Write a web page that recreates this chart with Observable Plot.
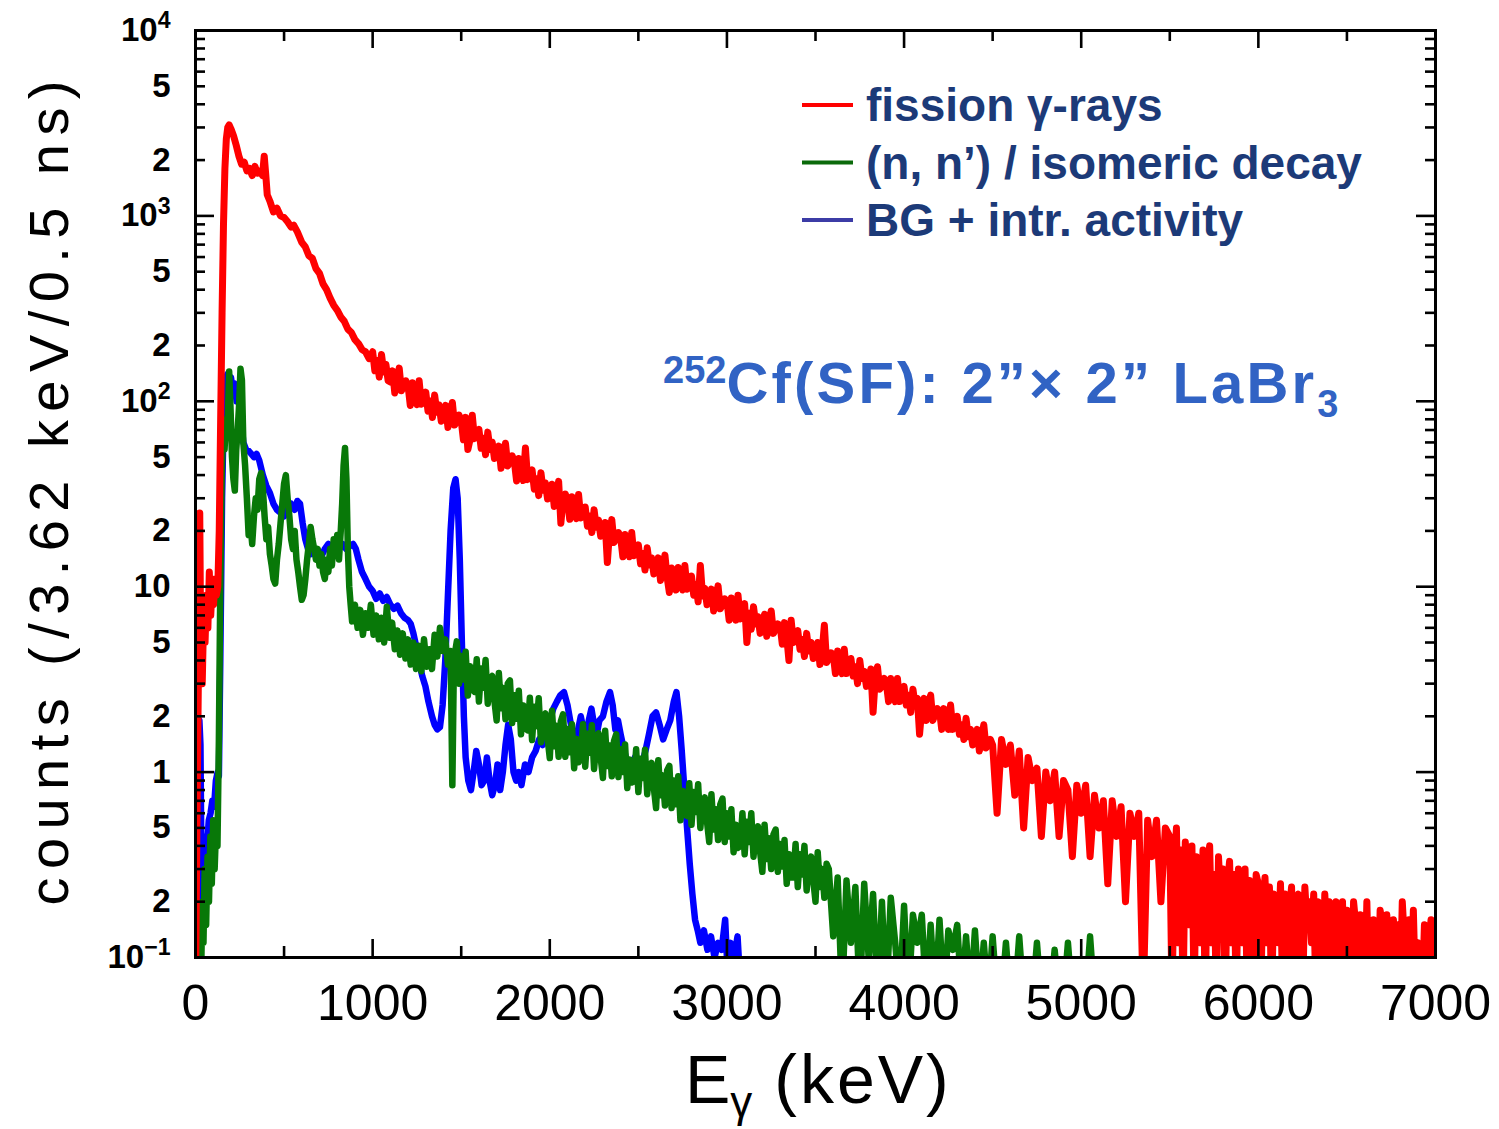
<!DOCTYPE html>
<html>
<head>
<meta charset="utf-8">
<script src="https://cdn.jsdelivr.net/npm/d3@7"></script>
<script src="https://cdn.jsdelivr.net/npm/@observablehq/plot@0.6"></script>
<style>
  html, body { margin: 0; padding: 0; background: #ffffff; }
  #chart { width: 1499px; height: 1129px; }
</style>
</head>
<body>
<div id="chart"></div>
<script>
// ---------------- DATA ----------------
// Energies in keV, counts per (3.62 keV / 0.5 ns). 0 = empty bin.

// fission gamma-rays: irregular low-energy part [E, counts]
const redHead = [[0,0],[8,0.5],[16,3],[24,25],[30,4],[38,3],[46,7],[54,5],[62,9],[70,6],[78,12],[86,7],[94,10],[102,8],[110,11],[118,9],[126,10],[134,20],[142,80],[150,300],[158,900],[166,1800],[174,2600],[182,3000],[190,3100],[200,2950],[215,2700],[230,2400],[245,2100],[260,1900],[275,1950],[290,1750],[305,1800],[320,1650],[335,1850],[350,1700],[365,1750],[378,1650],[388,2100],[396,1700],[405,1300],[420,1200],[440,1050],[460,1100],[480,1000],[500,980],[520,930],[540,870],[555,890],[575,820],[600,720],[620,680],[640,610],[660,590],[680,520],[700,490],[720,430],[740,400],[760,360],[780,330],[800,310],[820,285],[840,270],[860,245],[880,235],[900,215],[920,205],[940,190],[960,185],[980,170]];
// fission gamma-rays: 12.5 keV bins from 1000 to 4500 keV
const redMidStart = 1000, redMidStep = 12.5;
const redMid = [
185,146,166,135,179,144,158,129, 127,146,111,132,151,114,121,129,
121,95,126,106,96,129,96.5,104, 112,88.5,100.5,81.7,108,87.2,95.6,78.1,
82.7,95.1,72.2,86.2,98.6,74.4,78.6,84.3, 78.8,62,81.9,55,62.3,84,62.9,67.9,
70.6,55.8,63.3,51.5,68.2,54.9,60.2,49.2, 49.8,57.3,43.5,51.9,59.4,44.8,47.3,50.8,
47.3,37.2,49.1,41.5,37.4,56,37.8,40.7, 42.6,33.6,38.2,31,41.2,33.1,36.3,29.7,
31,35.7,27.1,32.3,37,22,29.5,31.6, 29.4,23.1,30.6,25.8,23.3,31.4,23.5,25.3,
26.9,21.2,24.1,19.6,26,20.9,22.9,18.7, 19.3,22.2,13.5,20.1,23,17.3,18.3,19.6,
18.4,14.5,19.1,16.1,14.5,19.6,14.7,15.8, 16.8,13.3,15.1,12.3,16.2,13.1,14.3,11.7,
12.4,14.3,10.8,12.9,14.8,11.2,9.3,12.6, 12.2,9.6,12.7,10.7,9.6,13,9.7,10.5,
11.4,9.0,10.3,8.3,13,8.9,9.8,8.0, 8.5,9.7,7.4,8.8,10.1,7.6,8.0,8.6,
8.4,6.6,8.7,7.4,6.6,9.0,6.7,7.2, 8.1,5.0,7.2,5.9,7.8,6.3,6.9,5.6,
6.2,7.1,5.4,6.5,7.4,5.6,5.9,6.3, 6.2,4.9,6.4,5.4,4.0,6.6,5.0,5.3,
5.8,4.6,5.2,4.2,5.6,4.5,5.0,4.1, 4.3,5.0,3.8,4.5,6.2,3.9,4.1,4.4,
4.3,3.4,4.5,3.8,3.4,4.6,3.4,3.7, 4.1,3.3,3.7,3.0,4.0,3.2,3.5,2.9,
3.1,3.6,2.1,3.2,3.7,2.8,2.9,3.2, 3.0,2.4,3.2,2.7,2.4,3.2,2.4,2.6,
2.9,2.3,2.6,2.1,2.8,2.3,2.5,1.6, 2.2,2.5,1.9,2.3,2.6,1.9,2.05,2.2,
2.15,1.7,2.2,1.9,1.7,2.3,1.7,1.85, 2.0,1.6,1.8,1.5,1.95,1.55,1.7,1.4,
1.5,1.7,1.3,1.55,1.8,1.35,1.4,1.5, 1.4];
// fission gamma-rays: 25 keV bins from 4525 to 5475 keV
const redFarStart = 4525, redFarStep = 25;
const redFar = [
0.6,1.5,1.1,1.4, 0.75,1.3,0.5,1.2, 0.9,1.05,0.45,1.0, 0.7,1.0,0.45,0.9, 0.8,0.35,0.85,0.6,
0.85,0.35,0.75,0.5, 0.7,0.25,0.7,0.45, 0.65,0.2,0.6,0.45, 0.6,0,0.55,0.35, 0.55,0.2,0.5];
// fission gamma-rays: 12.5 keV bins from 5500 to 7000 keV
const redEndStart = 5500, redEndStep = 12.5;
const redEnd = [
0.45,0,0.3,0.5,0.12,0.38,0,0.42, 0.3,0.15,0.4,0,0.35,0.25,0.12,0.38,
0,0.32,0.4,0.12,0.28,0,0.35,0.2, 0.3,0,0.25,0.33,0.12,0.28,0,0.3,
0.22,0.12,0.3,0,0.26,0.2,0,0.28, 0.25,0,0.2,0.27,0.12,0.24,0,0.22,
0.2,0.12,0.25,0,0.22,0,0.18,0.24, 0,0.2,0.22,0.12,0,0.24,0.15,0.2,
0.12,0.22,0,0.2,0.18,0,0.22,0.12, 0.2,0,0.17,0.2,0,0.15,0.2,0,
0.18,0.12,0,0.2,0.15,0,0.17,0.12, 0,0.2,0,0,0.16,0.12,0,0.18,
0.15,0,0.17,0.12,0,0.16,0,0.15, 0,0.2,0.12,0,0.16,0,0.18,0,
0.12,0,0,0.15,0,0.12,0.16,0, 0.15];

// (n,n') / isomeric decay: irregular low-energy part [E, counts]
const greenHead = [[30,0],[38,0.2],[45,0.12],[52,0.3],[60,0.15],[68,0.35],[76,0.2],[84,0.45],[92,0.25],[100,0.55],[108,0.3],[116,0.5],[124,0.4],[132,1.5],[140,10],[148,40],[156,70],[164,55],[172,80],[180,67],[190,145],[198,90],[206,50],[214,38],[222,33],[230,55],[238,70],[246,95],[254,150],[262,130],[270,60],[280,45],[290,30],[300,19],[310,22],[320,17],[330,24],[340,30],[350,26],[360,38],[370,41],[380,34],[390,24],[400,18],[410,21],[420,15],[430,13],[440,11],[450,10.4],[460,14],[470,17],[480,22],[490,28],[500,36],[510,40],[520,30],[530,24],[540,18],[550,16],[560,20],[570,14],[580,12],[590,10],[600,8.5],[610,9],[620,11],[630,14],[640,17],[650,21],[660,18],[670,16],[680,14],[690,16],[700,13],[710,15],[720,12],[730,11],[740,14],[750,12],[760,16],[770,13],[780,18],[790,15],[800,19],[810,14],[820,20],[828,28],[836,45],[844,56],[852,38],[860,16],[868,10],[876,8],[884,6.5],[900,8],[915,6],[930,7.5],[945,5.5],[960,7.2],[975,6],[990,8],[1005,5.5],[1020,7],[1035,5.2],[1050,6.8],[1065,5],[1080,7.8],[1095,5.3],[1110,6.4],[1125,4.6],[1140,5.8],[1155,4.3],[1170,5.6],[1185,4.1],[1200,5.2],[1215,3.8],[1230,5],[1245,3.6],[1260,4.8],[1275,3.5],[1290,5.2],[1305,3.7],[1320,4.6],[1335,3.6],[1350,5.5],[1365,4.2],[1380,6],[1395,4.5],[1410,5.2],[1425,3.8],[1440,4.5],[1450,0.85],[1458,3.5],[1468,4.6]];
// (n,n') / isomeric decay: 12.5 keV bins from 1475 to 3562.5 keV
const greenMidStart = 1475, greenMidStep = 12.5;
const greenMid = [
5.07,3.0,4.23,3.16,4.46,2.59,3.72,2.79, 2.71,4.06,2.4,3.62,2.85,4.02,2.34,3.19,
3.3,2.42,1.9,3.42,2.21,2.84,1.93,3.0, 3.12,1.84,2.6,1.94,2.75,1.6,2.29,1.72,
1.68,2.52,1.49,2.25,1.77,2.5,1.45,1.98, 2.07,1.52,1.19,2.14,1.38,1.78,1.21,1.88,
2.05,1.21,1.71,1.28,1.81,1.05,1.51,1.13, 1.21,1.81,1.07,1.61,1.27,1.79,1.04,1.42,
1.62,1.19,0.93,1.67,1.08,1.39,0.95,1.47, 1.6,0.94,1.33,1.0,1.41,0.82,1.17,0.88,
0.89,1.33,0.78,1.18,0.93,1.32,0.76,1.04, 1.12,0.82,0.64,1.16,0.75,0.96,0.66,1.02,
1.08,0.64,0.9,0.67,0.95,0.55,0.79,0.59, 0.58,0.87,0.52,0.78,0.61,0.86,0.5,0.69,
0.73,0.54,0.42,0.76,0.49,0.63,0.43,0.67, 0.72,0.42,0.6,0.45,0.63,0.37,0.52,0.39,
0.4,0.6,0.36,0.54,0.42,0.6,0.35,0.47, 0.51,0.37,0.29,0.52,0.34,0.44,0.3,0.46,
0.49,0.29,0.41,0.31,0.43,0.25,0.36,0.27, 0.27,0.41,0.24,0.36,0.28,0.4,0.23,0.32,
0.35,0.26,0.2,0.37,0.24,0.3,0.21,0.32];
// (n,n') / isomeric decay: 25 keV bins from 3575 keV
const greenFarStart = 3575, greenFarStep = 25;
const greenFar = [
0.3,0.13,0.27,0, 0.26,0.12,0.24,0, 0.25,0.1,0.22,0, 0.2,0,0.21,0.12, 0,0.19,0,0.17,
0.12,0.17,0,0.15, 0,0.16,0,0.14, 0.11,0.15,0,0.13, 0,0.14,0,0.12, 0,0.13,0,0,
0.12,0,0,0.13, 0,0,0,0.12, 0,0,0,0.11, 0,0,0.12,0, 0,0,0,0.13,
0,0,0,0, 0,0,0,0, 0,0,0,0.11, 0,0];

// BG + intrinsic activity [E, counts]
const blueCounts = [[15,0],[22,1.9],[28,1.4],[34,0.28],[45,0.35],[55,0.45],[65,0.4],[75,0.55],[85,0.6],[95,0.7],[105,0.65],[115,0.9],[125,1.0],[132,0.95],[140,4],[150,30],[160,90],[170,130],[180,140],[190,120],[200,135],[210,115],[220,125],[232,100],[245,110],[258,80],[270,60],[285,55],[300,54],[315,52],[330,50],[345,52],[360,48],[380,40],[400,35],[420,32],[440,28],[460,26],[480,25],[500,24],[520,27],[540,28],[560,26],[575,29],[590,28],[605,22],[620,18],[635,16],[650,15],[670,16],[690,15],[710,14.5],[730,16],[750,17],[770,16.5],[790,17.5],[810,16],[830,17],[850,16],[870,16.5],[890,17],[905,16],[920,14],[940,12],[960,11],[980,10],[1000,9.5],[1020,8.6],[1040,9.2],[1060,8.4],[1080,8.8],[1100,8],[1120,7.6],[1140,7.9],[1160,7.2],[1180,6.8],[1200,6.6],[1215,6.3],[1230,5.6],[1245,4.8],[1260,4],[1280,3.3],[1298,2.9],[1315,2.4],[1335,2.0],[1350,1.8],[1365,1.7],[1380,1.75],[1395,2.3],[1410,4],[1425,9],[1440,20],[1455,34],[1468,38],[1480,30],[1492,14],[1505,4.5],[1515,2],[1525,1.2],[1540,0.9],[1555,0.8],[1570,1.0],[1585,1.3],[1600,1.1],[1615,0.85],[1630,0.9],[1645,1.2],[1660,0.9],[1675,0.75],[1690,0.85],[1705,1.1],[1720,0.8],[1735,1.0],[1750,1.4],[1765,1.8],[1780,1.5],[1795,1.0],[1810,0.9],[1825,1.0],[1840,0.85],[1860,1.1],[1880,1.0],[1900,1.2],[1920,1.3],[1940,1.5],[1960,1.4],[1980,1.8],[2000,1.9],[2020,2.2],[2040,2.4],[2060,2.6],[2080,2.7],[2100,2.3],[2115,1.9],[2130,1.6],[2145,1.4],[2160,1.7],[2175,2.0],[2190,1.7],[2205,1.5],[2220,1.9],[2235,2.2],[2250,1.8],[2265,1.6],[2280,1.9],[2300,2.0],[2320,2.4],[2340,2.7],[2355,2.3],[2370,1.7],[2385,1.9],[2400,1.6],[2420,1.3],[2440,1.1],[2460,1.0],[2480,1.2],[2500,1.05],[2520,1.1],[2540,1.3],[2560,1.6],[2580,2.0],[2600,2.1],[2620,1.8],[2640,1.5],[2660,1.7],[2680,1.9],[2700,2.4],[2715,2.7],[2730,2.0],[2745,1.3],[2760,0.8],[2775,0.5],[2790,0.32],[2805,0.22],[2820,0.16],[2835,0.14],[2850,0.12],[2870,0.14],[2890,0.11],[2910,0.13],[2930,0.1],[2950,0.12],[2970,0.11],[2990,0.16],[3000,0.1],[3020,0.12],[3040,0.1],[3060,0.13],[3080,0]];

// axes
const xTickValues = [0, 1000, 2000, 3000, 4000, 5000, 6000, 7000];
const xTickLabels = ["0", "1000", "2000", "3000", "4000", "5000", "6000", "7000"];
const xMinorTicks = [500, 1500, 2500, 3500, 4500, 5500, 6500];
const yTickValues = [0.1, 0.2, 0.5, 1, 2, 5, 10, 20, 50, 100, 200, 500, 1000, 2000, 5000, 10000];
const yTickLabels = ["10^\u22121", "2", "5", "1", "2", "5", "10", "2", "5", "10^2", "2", "5", "10^3", "2", "5", "10^4"];
const yMajorTicks = [0.1, 1, 10, 100, 1000, 10000];

const seriesNames = ["fission \u03b3-rays", "(n, n\u2019) / isomeric decay", "BG + intr. activity"];
const seriesColors = ["#ff0000", "#087808", "#0000ff"];
const legendColors = ["#ff0000", "#0a6a0a", "#3c3ca6"];

// ---------------- build tables ----------------
function pairs(list) { return list.map(([E, v]) => ({E, v})); }
function binned(start, step, list) { return list.map((v, i) => ({E: start + i * step, v})); }
const redData = [...pairs(redHead), ...binned(redMidStart, redMidStep, redMid),
  ...binned(redFarStart, redFarStep, redFar), ...binned(redEndStart, redEndStep, redEnd)];
const greenData = [...pairs(greenHead), ...binned(greenMidStart, greenMidStep, greenMid), ...binned(greenFarStart, greenFarStep, greenFar)];
const blueData = pairs(blueCounts);
const yMinorTicks = d3.scaleLog().domain([0.1, 10000]).ticks().filter(t => !yMajorTicks.some(m => Math.abs(m - t) < 1e-9));

// ---------------- chart ----------------
const W = 1499, H = 1129;
const mL = 195, mR = 64, mT = 30, mB = 172;
const plotW = W - mL - mR, plotH = H - mT - mB;
const FONT = "'Liberation Sans', Arial, Helvetica, sans-serif";
const yFloor = d => Math.max(d.v, 0.06);

const chart = Plot.plot({
  width: W, height: H,
  marginLeft: mL, marginRight: mR, marginTop: mT, marginBottom: mB,
  style: {background: "#ffffff", fontFamily: FONT, color: "#000"},
  x: {domain: [0, 7000], axis: null},
  y: {type: "log", domain: [0.1, 10000], axis: null},
  marks: [
    Plot.line(blueData, {x: "E", y: yFloor, stroke: seriesColors[2], strokeWidth: 6.5, clip: true}),
    Plot.line(greenData, {x: "E", y: yFloor, stroke: seriesColors[1], strokeWidth: 6.5, clip: true}),
    Plot.line(redData, {x: "E", y: yFloor, stroke: seriesColors[0], strokeWidth: 7, clip: true}),
    // inward ticks, all four sides
    Plot.ruleY(yMinorTicks, {stroke: "#000", strokeWidth: 2.6, insetRight: plotW - 10}),
    Plot.ruleY(yMinorTicks, {stroke: "#000", strokeWidth: 2.6, insetLeft: plotW - 10}),
    Plot.ruleY(yMajorTicks, {stroke: "#000", strokeWidth: 2.6, insetRight: plotW - 19}),
    Plot.ruleY(yMajorTicks, {stroke: "#000", strokeWidth: 2.6, insetLeft: plotW - 19}),
    Plot.ruleX(xMinorTicks, {stroke: "#000", strokeWidth: 2.6, insetTop: plotH - 11}),
    Plot.ruleX(xMinorTicks, {stroke: "#000", strokeWidth: 2.6, insetBottom: plotH - 11}),
    Plot.ruleX(xTickValues, {stroke: "#000", strokeWidth: 2.6, insetTop: plotH - 18}),
    Plot.ruleX(xTickValues, {stroke: "#000", strokeWidth: 2.6, insetBottom: plotH - 18}),
    Plot.frame({stroke: "#000", strokeWidth: 3}),
    // tick labels
    Plot.text(xTickValues, {x: d => d, text: (d, i) => xTickLabels[i], frameAnchor: "bottom",
      lineAnchor: "top", dy: 27, fontSize: 50, fill: "#000"}),
    Plot.text(yTickValues, {y: d => d, text: (d, i) => yTickLabels[i], frameAnchor: "left",
      textAnchor: "end", dx: -25, fontSize: 33, fontWeight: "bold", fill: "#000"})
  ]
});
document.getElementById("chart").appendChild(chart);

const svg = d3.select(chart);

// superscripts on decade labels
svg.selectAll("text").filter(function () { return this.textContent.includes("^"); }).each(function () {
  const [b, e] = this.textContent.split("^");
  const s = d3.select(this);
  s.text(b);
  s.append("tspan").attr("dy", "-0.55em").attr("font-size", "0.7em").text(e);
});

// axis titles
svg.append("text")
  .attr("transform", "translate(68,493) rotate(-90)")
  .attr("text-anchor", "middle")
  .attr("font-family", FONT).attr("font-size", 56).attr("fill", "#000")
  .attr("textLength", 825).attr("lengthAdjust", "spacing")
  .text("counts (/3.62 keV/0.5 ns)");

const xTitle = svg.append("text")
  .attr("x", 685).attr("y", 1103).attr("text-anchor", "start")
  .attr("font-family", FONT).attr("font-size", 68).attr("fill", "#000");
xTitle.append("tspan").text("E");
xTitle.append("tspan").attr("font-size", 44).attr("dy", 14).text("\u03b3");
xTitle.append("tspan").attr("dy", -14).attr("letter-spacing", 3).text(" (keV)");

// legend
const leg = svg.append("g").attr("font-family", FONT).attr("font-weight", "bold")
  .attr("font-size", 46).attr("fill", "#1c3a78").attr("text-anchor", "start");
seriesNames.forEach((name, i) => {
  const y = 105 + i * 57.5;
  leg.append("line").attr("x1", 802).attr("x2", 853).attr("y1", y).attr("y2", y)
    .attr("stroke", legendColors[i]).attr("stroke-width", 4);
  leg.append("text").attr("x", 866).attr("y", y + 16).text(name);
});

// annotation
const ann = svg.append("text").attr("x", 663).attr("y", 403).attr("text-anchor", "start")
  .attr("font-family", FONT).attr("font-weight", "bold").attr("font-size", 58).attr("fill", "#3163c4");
ann.append("tspan").attr("font-size", 38).attr("dy", -20).text("252");
ann.append("tspan").attr("dy", 20).attr("letter-spacing", 3.2).text("Cf(SF): 2\u201d\u00d7 2\u201d LaBr");
ann.append("tspan").attr("font-size", 38).attr("dy", 14).text("3");
</script>
</body>
</html>
